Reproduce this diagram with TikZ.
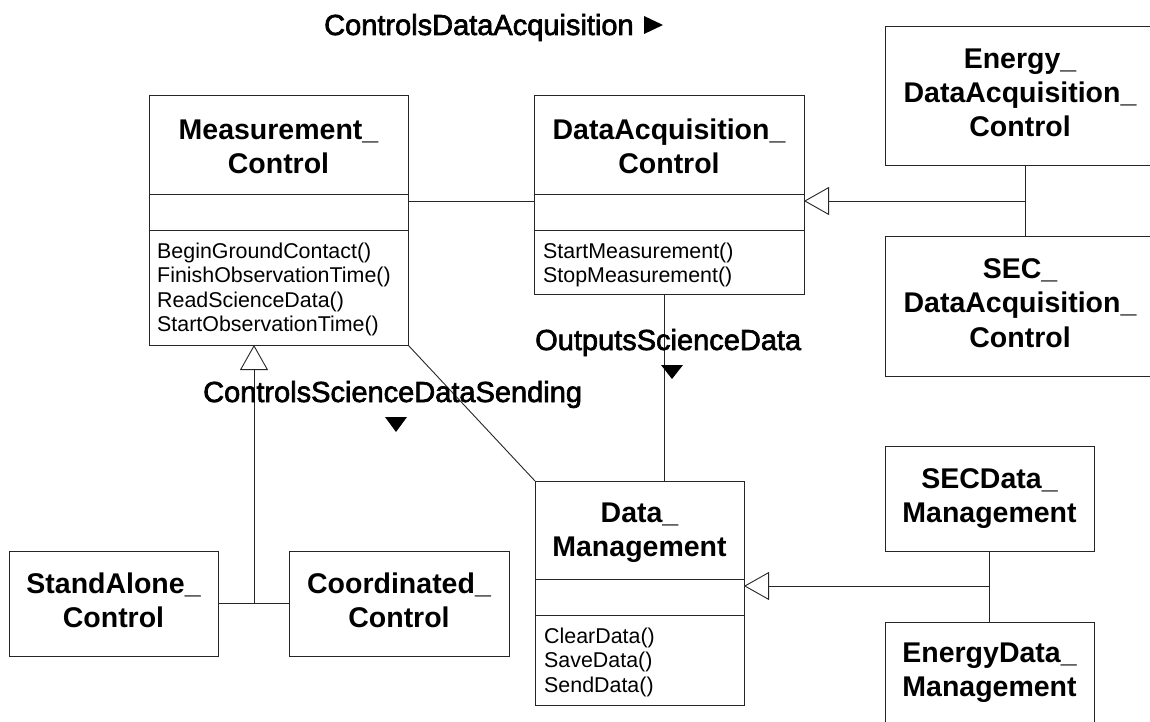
\documentclass[tikz,border=0pt]{standalone}
\usepackage{fontspec}
\setmainfont{Liberation Sans}
\newfontfamily\lblfont[FakeBold=2.2]{Liberation Sans}
\usetikzlibrary{arrows.meta}

\definecolor{linecol}{gray}{0.15}

\tikzset{
  x=1pt, y=-1pt,
  clsbox/.style={draw=linecol, line width=0.9pt, fill=white, rectangle, inner sep=0pt, outer sep=0pt},
  ttl/.style={font=\bfseries\fontsize{28.5}{34}\selectfont, anchor=base, inner sep=0pt},
  op/.style={font=\fontsize{21.4}{24.4}\selectfont, anchor=base west, inner sep=0pt},
  rolelbl/.style={font=\lblfont\fontsize{29}{34}\selectfont, anchor=base west, inner sep=0pt},
  conn/.style={draw=linecol, line width=0.9pt},
  gen/.style={conn, -{Triangle[open, length=25pt, width=28pt, line width=0.9pt]}},
  divider/.style={draw=linecol, line width=0.9pt}
}

\begin{document}
\begin{tikzpicture}
\useasboundingbox (0,0) rectangle (1150,722);
\clip (0,0) rectangle (1150,722);
\fill[white] (0,0) rectangle (1150,722);

% ---------- class boxes ----------
\node[clsbox, minimum width=259pt, minimum height=250pt] (mc)   at (278.5,220)  {};
\node[clsbox, minimum width=270pt, minimum height=199pt] (dac)  at (669,194.5)  {};
\node[clsbox, minimum width=270pt, minimum height=139pt] (edac) at (1020,95.5)  {};
\node[clsbox, minimum width=270pt, minimum height=140pt] (sdac) at (1020,306)   {};
\node[clsbox, minimum width=209pt, minimum height=224pt] (dm)   at (639.5,593)  {};
\node[clsbox, minimum width=209pt, minimum height=105pt] (sdm)  at (989.5,498.5){};
\node[clsbox, minimum width=209pt, minimum height=106pt] (edm)  at (989.5,675)  {};
\node[clsbox, minimum width=209pt, minimum height=105pt] (sac)  at (113.5,603.5){};
\node[clsbox, minimum width=220pt, minimum height=105pt] (cc)   at (399,603.5)  {};

% ---------- compartments ----------
\draw[divider] ([yshift=-99pt]mc.north west)  -- ([yshift=-99pt]mc.north east);
\draw[divider] ([yshift=-135pt]mc.north west) -- ([yshift=-135pt]mc.north east);
\draw[divider] ([yshift=-99pt]dac.north west)  -- ([yshift=-99pt]dac.north east);
\draw[divider] ([yshift=-135pt]dac.north west) -- ([yshift=-135pt]dac.north east);
\draw[divider] ([yshift=-98pt]dm.north west)  -- ([yshift=-98pt]dm.north east);
\draw[divider] ([yshift=-134pt]dm.north west) -- ([yshift=-134pt]dm.north east);

% ---------- class names ----------
\node[ttl] (mcA) at (278.5,139.5) {Measurement\_};
\node[ttl] (mcB) at (278.5,173.5) {Control};
\node[ttl] (dacA) at (669,139.5) {DataAcquisition\_};
\node[ttl] (dacB) at (669,173.5) {Control};
\node[ttl] (edacA) at (1020,68.5)  {Energy\_};
\node[ttl] (edacB) at (1020,102.5) {DataAcquisition\_};
\node[ttl] (edacC) at (1020,136.5) {Control};
\node[ttl] (sdacA) at (1020,278)  {SEC\_};
\node[ttl] (sdacB) at (1020,312.5) {DataAcquisition\_};
\node[ttl] (sdacC) at (1020,347)  {Control};
\node[ttl] (dmA) at (639.5,522.5) {Data\_};
\node[ttl] (dmB) at (639.5,556.5) {Management};
\node[ttl] (sdmA) at (989.5,488) {SECData\_};
\node[ttl] (sdmB) at (989.5,522) {Management};
\node[ttl] (edmA) at (989.5,662) {EnergyData\_};
\node[ttl] (edmB) at (989.5,696.5) {Management};
\node[ttl] (sacA) at (113.5,593) {StandAlone\_};
\node[ttl] (sacB) at (113.5,627.5) {Control};
\node[ttl] (ccA) at (399,593) {Coordinated\_};
\node[ttl] (ccB) at (399,627.5) {Control};

% ---------- operations ----------
\node[op] (mc1) at (157,258)   {BeginGroundContact()};
\node[op] (mc2) at (157,282.5) {FinishObservationTime()};
\node[op] (mc3) at (157,307)   {ReadScienceData()};
\node[op] (mc4) at (157,331.5) {StartObservationTime()};
\node[op] (dac1) at (543,258)   {StartMeasurement()};
\node[op] (dac2) at (543,282.5) {StopMeasurement()};
\node[op] (dm1) at (544,643)   {ClearData()};
\node[op] (dm2) at (544,667.5) {SaveData()};
\node[op] (dm3) at (544,692)   {SendData()};

% ---------- associations ----------
\draw[conn] ([yshift=-106pt]mc.north east) -- ([yshift=-106pt]dac.north west);
\draw[conn] (mc.south east) -- (dm.north west);
\draw[conn] ([xshift=130pt]dac.south west) -- ([xshift=129pt]dm.north west);

% ---------- generalizations ----------
\coordinate (g1) at (254,603.5);
\draw[conn] (sac.east) -- (cc.west);
\draw[gen] (g1) -- (g1 |- mc.south);

\coordinate (g2) at (1025,201);
\draw[conn] ([xshift=5pt]edac.south) -- ([xshift=5pt]sdac.north);
\draw[gen] (g2) -- (g2 -| dac.east);

\coordinate (g3) at (989.5,586);
\draw[conn] (sdm.south) -- (edm.north);
\draw[gen] (g3) -- (g3 -| dm.east);

% ---------- association names ----------
\node[rolelbl] (l1) at (324,35)  {ControlsDataAcquisition};
\fill (644,16) -- (663,25) -- (644,34) -- cycle;
\node[rolelbl] (l2) at (203,402) {ControlsScienceDataSending};
\fill (385,417) -- (407,417) -- (396,432) -- cycle;
\node[rolelbl] (l3) at (535,350) {OutputsScienceData};
\fill (661,365) -- (683,365) -- (672,379) -- cycle;
\end{tikzpicture}
\end{document}
